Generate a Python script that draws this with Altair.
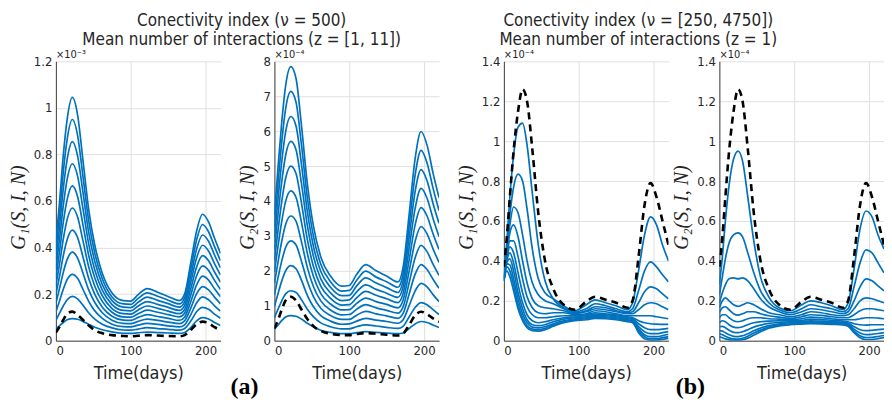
import altair as alt
import pandas as pd

# ---------------- data ----------------
DAYS_A = [0, 5, 10, 15, 22, 29, 36, 44, 52, 62, 75, 90, 100, 110, 122, 136,
          150, 165, 172, 180, 188, 196, 204, 212, 220]

# G1 (x1e-3), nu = 500, one row per day, columns z = 1..11
G1_A = [
    [0.05, 0.087, 0.124, 0.161, 0.198, 0.235, 0.272, 0.309, 0.346, 0.383, 0.42],
    [0.065, 0.119, 0.172, 0.226, 0.279, 0.333, 0.386, 0.44, 0.493, 0.547, 0.60],
    [0.078, 0.15, 0.222, 0.295, 0.367, 0.439, 0.511, 0.583, 0.656, 0.728, 0.80],
    [0.09, 0.176, 0.262, 0.348, 0.434, 0.52, 0.606, 0.692, 0.778, 0.864, 0.95],
    [0.095, 0.19, 0.285, 0.38, 0.475, 0.57, 0.665, 0.76, 0.855, 0.95, 1.045],
    [0.092, 0.18, 0.268, 0.355, 0.443, 0.531, 0.619, 0.707, 0.794, 0.882, 0.97],
    [0.083, 0.153, 0.222, 0.292, 0.362, 0.432, 0.501, 0.571, 0.641, 0.71, 0.78],
    [0.07, 0.119, 0.168, 0.217, 0.266, 0.315, 0.364, 0.413, 0.462, 0.511, 0.56],
    [0.058, 0.093, 0.128, 0.164, 0.199, 0.234, 0.269, 0.304, 0.34, 0.375, 0.41],
    [0.047, 0.071, 0.096, 0.12, 0.144, 0.169, 0.193, 0.217, 0.241, 0.266, 0.29],
    [0.038, 0.055, 0.071, 0.088, 0.105, 0.122, 0.138, 0.155, 0.172, 0.188, 0.205],
    [0.032, 0.046, 0.06, 0.074, 0.088, 0.102, 0.116, 0.13, 0.144, 0.158, 0.172],
    [0.031, 0.045, 0.059, 0.073, 0.087, 0.101, 0.114, 0.128, 0.142, 0.156, 0.17],
    [0.034, 0.05, 0.067, 0.083, 0.1, 0.116, 0.132, 0.149, 0.165, 0.182, 0.198],
    [0.037, 0.056, 0.074, 0.093, 0.112, 0.131, 0.149, 0.168, 0.187, 0.205, 0.224],
    [0.035, 0.052, 0.07, 0.087, 0.104, 0.122, 0.139, 0.156, 0.173, 0.191, 0.208],
    [0.033, 0.049, 0.064, 0.08, 0.096, 0.112, 0.127, 0.143, 0.159, 0.174, 0.19],
    [0.031, 0.045, 0.059, 0.073, 0.087, 0.102, 0.116, 0.13, 0.144, 0.158, 0.172],
    [0.035, 0.052, 0.068, 0.085, 0.101, 0.118, 0.134, 0.151, 0.167, 0.184, 0.20],
    [0.055, 0.083, 0.11, 0.138, 0.165, 0.193, 0.22, 0.248, 0.275, 0.303, 0.33],
    [0.085, 0.124, 0.162, 0.201, 0.239, 0.278, 0.316, 0.355, 0.393, 0.432, 0.47],
    [0.099, 0.143, 0.188, 0.232, 0.277, 0.321, 0.365, 0.41, 0.454, 0.499, 0.543],
    [0.093, 0.135, 0.176, 0.218, 0.26, 0.302, 0.343, 0.385, 0.427, 0.468, 0.51],
    [0.078, 0.114, 0.15, 0.187, 0.223, 0.259, 0.295, 0.331, 0.368, 0.404, 0.44],
    [0.065, 0.096, 0.127, 0.158, 0.189, 0.22, 0.251, 0.282, 0.313, 0.344, 0.375],
]
G1_A_REF = [0.035, 0.06, 0.09, 0.115, 0.125, 0.11, 0.09, 0.065, 0.045, 0.032, 0.024,
            0.02, 0.019, 0.021, 0.024, 0.022, 0.02, 0.019, 0.024, 0.045, 0.07,
            0.082, 0.075, 0.058, 0.045]

# G2 (x1e-4), nu = 500, one row per day, columns z = 1..11
G2_A = [
    [0.33, 0.66, 0.98, 1.31, 1.64, 1.97, 2.29, 2.62, 2.95, 3.27, 3.6],
    [0.45, 0.91, 1.36, 1.82, 2.27, 2.73, 3.18, 3.64, 4.09, 4.55, 5.0],
    [0.58, 1.15, 1.72, 2.3, 2.87, 3.44, 4.01, 4.58, 5.16, 5.73, 6.3],
    [0.68, 1.34, 2.0, 2.67, 3.33, 3.99, 4.65, 5.31, 5.98, 6.64, 7.3],
    [0.72, 1.43, 2.15, 2.86, 3.57, 4.29, 5.0, 5.71, 6.42, 7.14, 7.85],
    [0.7, 1.38, 2.06, 2.74, 3.42, 4.1, 4.78, 5.46, 6.14, 6.82, 7.5],
    [0.62, 1.18, 1.74, 2.29, 2.85, 3.41, 3.97, 4.53, 5.08, 5.64, 6.2],
    [0.5, 0.9, 1.3, 1.7, 2.1, 2.5, 2.9, 3.3, 3.7, 4.1, 4.5],
    [0.4, 0.69, 0.98, 1.27, 1.56, 1.85, 2.14, 2.43, 2.72, 3.01, 3.3],
    [0.3, 0.51, 0.72, 0.93, 1.14, 1.35, 1.56, 1.77, 1.98, 2.19, 2.4],
    [0.24, 0.4, 0.56, 0.72, 0.88, 1.05, 1.21, 1.37, 1.53, 1.69, 1.85],
    [0.2, 0.34, 0.47, 0.61, 0.74, 0.88, 1.02, 1.15, 1.29, 1.42, 1.56],
    [0.2, 0.34, 0.48, 0.61, 0.75, 0.89, 1.03, 1.17, 1.3, 1.44, 1.58],
    [0.23, 0.4, 0.56, 0.73, 0.9, 1.07, 1.23, 1.4, 1.57, 1.73, 1.9],
    [0.26, 0.45, 0.64, 0.84, 1.03, 1.22, 1.41, 1.6, 1.8, 1.99, 2.18],
    [0.24, 0.42, 0.59, 0.77, 0.94, 1.12, 1.3, 1.47, 1.65, 1.82, 2.0],
    [0.22, 0.38, 0.55, 0.71, 0.87, 1.04, 1.2, 1.36, 1.52, 1.69, 1.85],
    [0.2, 0.35, 0.5, 0.64, 0.79, 0.94, 1.09, 1.24, 1.38, 1.53, 1.68],
    [0.22, 0.41, 0.6, 0.78, 0.97, 1.16, 1.35, 1.54, 1.72, 1.91, 2.1],
    [0.35, 0.68, 1.0, 1.33, 1.65, 1.98, 2.3, 2.63, 2.95, 3.28, 3.6],
    [0.48, 0.95, 1.42, 1.9, 2.37, 2.84, 3.31, 3.78, 4.26, 4.73, 5.2],
    [0.55, 1.09, 1.64, 2.18, 2.73, 3.27, 3.81, 4.36, 4.9, 5.45, 5.99],
    [0.52, 1.03, 1.54, 2.04, 2.55, 3.06, 3.57, 4.08, 4.58, 5.09, 5.6],
    [0.45, 0.89, 1.32, 1.76, 2.19, 2.63, 3.06, 3.5, 3.93, 4.37, 4.8],
    [0.38, 0.75, 1.12, 1.5, 1.87, 2.24, 2.61, 2.98, 3.36, 3.73, 4.1],
]
G2_A_REF = [0.35, 0.6, 0.9, 1.15, 1.26, 1.15, 0.9, 0.62, 0.42, 0.28, 0.2, 0.16,
            0.16, 0.19, 0.22, 0.2, 0.17, 0.15, 0.2, 0.45, 0.72, 0.83, 0.76, 0.64, 0.54]

DAYS_B = [0, 4, 8, 13, 19, 25, 31, 38, 46, 55, 66, 80, 95, 110, 122, 136,
          150, 165, 172, 180, 188, 196, 204, 212, 220]

# G1 (x1e-4), nu = 250 ... 4750, z = 1, one list per curve
G1_B = [
    [0.32, 0.5, 0.72, 0.93, 1.07, 1.09, 0.98, 0.74, 0.48, 0.3, 0.21, 0.165, 0.15, 0.18, 0.205, 0.19, 0.175, 0.155, 0.19, 0.35, 0.53, 0.62, 0.58, 0.48, 0.40],
    [0.32, 0.47, 0.63, 0.77, 0.835, 0.8, 0.66, 0.46, 0.31, 0.24, 0.21, 0.175, 0.145, 0.16, 0.185, 0.175, 0.16, 0.145, 0.16, 0.25, 0.35, 0.395, 0.37, 0.33, 0.295],
    [0.31, 0.45, 0.58, 0.67, 0.64, 0.53, 0.4, 0.29, 0.23, 0.2, 0.185, 0.16, 0.14, 0.15, 0.17, 0.165, 0.15, 0.14, 0.145, 0.19, 0.245, 0.27, 0.26, 0.235, 0.21],
    [0.31, 0.43, 0.54, 0.58, 0.52, 0.4, 0.29, 0.21, 0.175, 0.165, 0.16, 0.15, 0.135, 0.145, 0.16, 0.155, 0.145, 0.135, 0.135, 0.155, 0.18, 0.19, 0.185, 0.17, 0.155],
    [0.31, 0.42, 0.5, 0.5, 0.42, 0.31, 0.22, 0.165, 0.14, 0.135, 0.14, 0.14, 0.13, 0.135, 0.15, 0.145, 0.135, 0.125, 0.125, 0.125, 0.125, 0.125, 0.12, 0.115, 0.11],
    [0.3, 0.41, 0.47, 0.44, 0.34, 0.24, 0.17, 0.13, 0.115, 0.115, 0.12, 0.125, 0.125, 0.13, 0.14, 0.135, 0.13, 0.12, 0.115, 0.1, 0.09, 0.085, 0.083, 0.082, 0.082],
    [0.3, 0.4, 0.44, 0.39, 0.28, 0.19, 0.13, 0.1, 0.09, 0.095, 0.105, 0.115, 0.12, 0.125, 0.133, 0.13, 0.125, 0.115, 0.11, 0.085, 0.065, 0.055, 0.055, 0.058, 0.062],
    [0.3, 0.395, 0.41, 0.35, 0.24, 0.16, 0.105, 0.08, 0.075, 0.08, 0.095, 0.108, 0.115, 0.12, 0.127, 0.125, 0.12, 0.11, 0.105, 0.07, 0.045, 0.035, 0.035, 0.04, 0.045],
    [0.3, 0.385, 0.38, 0.31, 0.21, 0.135, 0.09, 0.068, 0.064, 0.07, 0.085, 0.1, 0.11, 0.115, 0.122, 0.12, 0.115, 0.105, 0.1, 0.06, 0.03, 0.02, 0.02, 0.025, 0.032],
    [0.3, 0.37, 0.35, 0.28, 0.18, 0.115, 0.075, 0.058, 0.055, 0.062, 0.078, 0.095, 0.105, 0.11, 0.117, 0.115, 0.11, 0.1, 0.095, 0.05, 0.02, 0.01, 0.01, 0.015, 0.02],
    [0.3, 0.35, 0.32, 0.25, 0.16, 0.1, 0.065, 0.05, 0.048, 0.055, 0.072, 0.09, 0.1, 0.105, 0.112, 0.11, 0.105, 0.095, 0.09, 0.04, 0.01, 0.003, 0.003, 0.007, 0.012],
]

# G2 (x1e-4), nu = 250 ... 4750, z = 1, one list per curve
G2_B = [
    [0.28, 0.42, 0.6, 0.78, 0.91, 0.95, 0.9, 0.72, 0.5, 0.32, 0.22, 0.165, 0.15, 0.18, 0.2, 0.19, 0.175, 0.155, 0.19, 0.36, 0.56, 0.65, 0.62, 0.53, 0.46],
    [0.23, 0.32, 0.41, 0.49, 0.53, 0.54, 0.52, 0.44, 0.34, 0.25, 0.19, 0.155, 0.14, 0.16, 0.18, 0.17, 0.16, 0.145, 0.16, 0.27, 0.39, 0.455, 0.44, 0.39, 0.34],
    [0.19, 0.24, 0.28, 0.31, 0.315, 0.31, 0.315, 0.3, 0.26, 0.21, 0.17, 0.145, 0.13, 0.145, 0.16, 0.155, 0.145, 0.135, 0.145, 0.2, 0.27, 0.31, 0.3, 0.275, 0.25],
    [0.165, 0.2, 0.215, 0.2, 0.18, 0.172, 0.18, 0.19, 0.18, 0.16, 0.14, 0.13, 0.12, 0.13, 0.145, 0.14, 0.13, 0.125, 0.13, 0.16, 0.2, 0.215, 0.21, 0.2, 0.19],
    [0.14, 0.165, 0.17, 0.155, 0.135, 0.128, 0.135, 0.145, 0.145, 0.135, 0.125, 0.118, 0.112, 0.12, 0.13, 0.127, 0.12, 0.115, 0.115, 0.13, 0.15, 0.16, 0.16, 0.155, 0.15],
    [0.115, 0.13, 0.13, 0.115, 0.1, 0.095, 0.1, 0.11, 0.115, 0.115, 0.11, 0.108, 0.105, 0.11, 0.118, 0.115, 0.11, 0.105, 0.105, 0.105, 0.11, 0.115, 0.115, 0.113, 0.11],
    [0.09, 0.1, 0.095, 0.08, 0.068, 0.065, 0.07, 0.08, 0.09, 0.095, 0.098, 0.1, 0.1, 0.102, 0.108, 0.106, 0.102, 0.098, 0.095, 0.085, 0.08, 0.078, 0.08, 0.08, 0.08],
    [0.07, 0.072, 0.065, 0.052, 0.042, 0.04, 0.045, 0.055, 0.068, 0.078, 0.087, 0.092, 0.095, 0.097, 0.1, 0.098, 0.095, 0.092, 0.088, 0.07, 0.055, 0.05, 0.052, 0.055, 0.058],
    [0.05, 0.048, 0.04, 0.03, 0.022, 0.02, 0.025, 0.035, 0.05, 0.063, 0.076, 0.085, 0.09, 0.092, 0.094, 0.093, 0.09, 0.087, 0.082, 0.058, 0.038, 0.03, 0.032, 0.036, 0.04],
    [0.035, 0.03, 0.022, 0.014, 0.009, 0.008, 0.012, 0.022, 0.038, 0.053, 0.068, 0.079, 0.085, 0.087, 0.089, 0.088, 0.086, 0.083, 0.077, 0.048, 0.025, 0.016, 0.017, 0.021, 0.026],
    [0.02, 0.015, 0.009, 0.004, 0.002, 0.002, 0.005, 0.013, 0.028, 0.045, 0.062, 0.074, 0.08, 0.083, 0.085, 0.084, 0.082, 0.079, 0.072, 0.04, 0.015, 0.006, 0.006, 0.01, 0.015],
]

REF_B = [0.37, 0.52, 0.72, 0.95, 1.15, 1.26, 1.2, 0.96, 0.64, 0.4, 0.26, 0.18, 0.155,
         0.195, 0.22, 0.205, 0.19, 0.165, 0.2, 0.42, 0.68, 0.79, 0.72, 0.6, 0.48]

X_TICKS = [0, 100, 200]
Y_TICKS_1 = [0, 0.2, 0.4, 0.6, 0.8, 1, 1.2]
Y_TICKS_2 = [0, 1, 2, 3, 4, 5, 6, 7, 8]
Y_TICKS_B = [0, 0.2, 0.4, 0.6, 0.8, 1, 1.2, 1.4]

TITLE_A = ["Conectivity index (\u03bd = 500)", "Mean number of interactions (z = [1, 11])"]
TITLE_B = ["Conectivity index (\u03bd = [250, 4750])", "Mean number of interactions (z = 1)"]

# ---------------- styling ----------------
BLUE = "#0072BD"
INK = "#262626"
SANS = "DejaVu Sans Condensed, Liberation Sans Narrow, DejaVu Sans"
SERIF = "Liberation Serif, DejaVu Serif"
W, H = 165, 280


def from_rows(days, rows):
    recs = []
    for d, row in zip(days, rows):
        for k, v in enumerate(row):
            recs.append({"day": d, "v": v, "s": k})
    return pd.DataFrame(recs)


def from_series(days, series):
    recs = []
    for k, s in enumerate(series):
        for d, v in zip(days, s):
            recs.append({"day": d, "v": v, "s": k})
    return pd.DataFrame(recs)


def panel(df, ref_days, ref_vals, ymax, yticks, ytitle, expo, width=W, tag=None, tag_dx=0):
    xs = alt.Scale(domain=[0, 220], nice=False, zero=False)
    ys = alt.Scale(domain=[0, ymax], nice=False, zero=True)
    xax = alt.Axis(values=X_TICKS, title="Time(days)", grid=True, labelOverlap=False, tickCount=3)
    yax = alt.Axis(values=yticks, title=ytitle, grid=True, format="~g", labelOverlap=False,
                   tickCount=len(yticks), titleY=146)
    enc_x = alt.X("day:Q", scale=xs, axis=xax)
    enc_y = alt.Y("v:Q", scale=ys, axis=yax)
    lines = alt.Chart(df).mark_line(color=BLUE, strokeWidth=1.7, interpolate="monotone", clip=True).encode(
        x=enc_x, y=enc_y, detail="s:N",
    )
    ref = alt.Chart(pd.DataFrame({"day": ref_days, "v": ref_vals})).mark_line(
        color="black", strokeWidth=2.6, strokeDash=[7, 5], interpolate="monotone", clip=True
    ).encode(x=enc_x, y=enc_y)
    ex = alt.Chart(pd.DataFrame({"t": [expo]})).mark_text(
        align="left", baseline="bottom", font=SANS, fontSize=11, color=INK
    ).encode(x=alt.value(0), y=alt.value(-1), text="t:N")
    layers = [lines, ref, ex]
    if tag is not None:
        tg = alt.Chart(pd.DataFrame({"t": [tag]})).mark_text(
            align="center", baseline="middle", font=SERIF, fontSize=24, fontWeight="bold", color="black"
        ).encode(x=alt.value(tag_dx), y=alt.value(326), text="t:N")
        layers.append(tg)
    return alt.layer(*layers).properties(width=width, height=H)


p1 = panel(from_rows(DAYS_A, G1_A), DAYS_A, G1_A_REF, 1.2, Y_TICKS_1,
           "G\u2081(S, I, N)", "\u00d710\u207b\u00b3")
p2 = panel(from_rows(DAYS_A, G2_A), DAYS_A, G2_A_REF, 8, Y_TICKS_2,
           "G\u2082(S, I, N)", "\u00d710\u207b\u2074", tag="(a)", tag_dx=-30)
p3 = panel(from_series(DAYS_B, G1_B), DAYS_B, REF_B, 1.4, Y_TICKS_B,
           "G\u2081(S, I, N)", "\u00d710\u207b\u2074")
p4 = panel(from_series(DAYS_B, G2_B), DAYS_B, REF_B, 1.4, Y_TICKS_B,
           "G\u2082(S, I, N)", "\u00d710\u207b\u2074", tag="(b)", tag_dx=-29)


def ttl(lines, dx):
    return alt.TitleParams(text=lines, font=SANS, fontSize=17, fontWeight="normal", color=INK,
                           anchor="middle", dx=dx, offset=0, lineHeight=19)


g1 = alt.hconcat(p1, p2, spacing=10).properties(title=ttl(TITLE_A, 18))
g2 = alt.hconcat(p3, p4, spacing=3).properties(title=ttl(TITLE_B, -32))

chart = alt.hconcat(g1, g2, spacing=17).properties(
    padding={"left": 0, "top": 4, "right": 0, "bottom": 0}
).configure_view(stroke=None).configure_axis(
    labelFont=SANS, labelFontSize=13, labelColor=INK, labelPadding=4,
    titleFont=SANS, titleFontSize=18, titleFontWeight="normal", titleColor=INK,
    ticks=False, domainColor="#404040", domainWidth=1,
    gridColor="#e0e0e0", gridWidth=1, labelOverlap=False,
).configure_axisY(
    titleFont=SERIF, titleFontStyle="italic", titleFontSize=20, titlePadding=5,
).configure_axisX(titlePadding=7).configure_concat(spacing=0)

chart.save("out.html", embed_options={"renderer": "svg", "actions": False})
